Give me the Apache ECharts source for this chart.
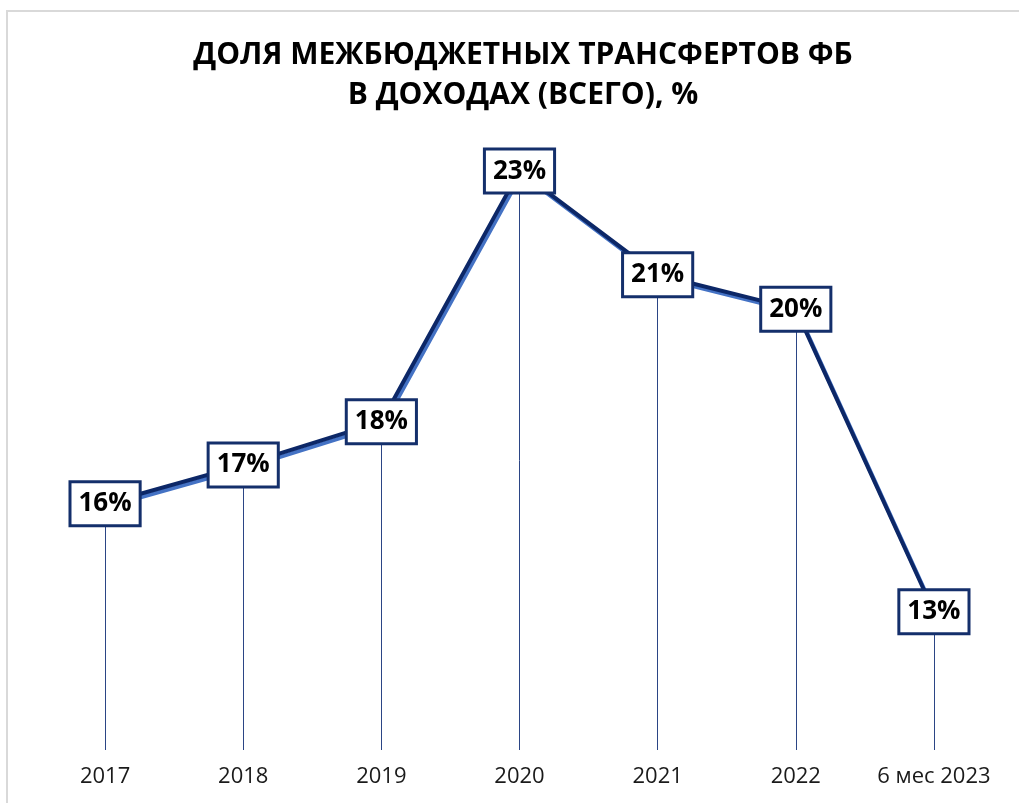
<!DOCTYPE html>
<html>
<head>
<meta charset="utf-8">
<script src="https://cdn.jsdelivr.net/npm/echarts@6/dist/echarts.min.js"></script>
<style>
    html, body { margin: 0; padding: 0; background: #fff; }
    #transfers { width: 1019px; height: 803px; }
</style>
</head>
<body>
<div id="transfers"></div>
<script>
    // данные графика
    var years = ['2017', '2018', '2019', '2020', '2021', '2022', '6 мес 2023'];
    var shares = [15.7, 16.6, 17.6, 23.4, 21.0, 20.2, 13.2];
    var yMin = 10;
    var yMax = 25;

    var chart = echarts.init(document.getElementById('transfers'));

    // вертикальные линии от точки до оси
    var dropLines = shares.map(function (v, i) {
        return [{ coord: [i, v] }, { coord: [i, yMin] }];
    });

    chart.setOption({
        animation: false,
        graphic: [{
            type: 'rect',
            shape: { x: 7, y: 11, width: 1100, height: 900 },
            style: { fill: 'none', stroke: '#d9d9d9', lineWidth: 2 },
            silent: true
        }],
        title: {
            text: 'ДОЛЯ МЕЖБЮДЖЕТНЫХ ТРАНСФЕРТОВ ФБ\nВ ДОХОДАХ (ВСЕГО), %',
            left: 518,
            top: 30,
            textAlign: 'center',
            textStyle: {
                fontFamily: 'Open Sans',
                fontWeight: 'bold',
                fontSize: 30,
                lineHeight: 40,
                color: '#000'
            }
        },
        grid: { left: 36, right: 16, top: 102, bottom: 53 },
        xAxis: {
            type: 'category',
            data: years,
            boundaryGap: true,
            axisLine: { show: false },
            axisTick: { show: false },
            axisLabel: {
                interval: 0,
                margin: 16,
                fontFamily: 'Open Sans',
                fontSize: 22,
                color: '#1a1a1a'
            }
        },
        yAxis: {
            type: 'value',
            min: yMin,
            max: yMax,
            show: false,
            splitLine: { show: false }
        },
        series: [{
            type: 'line',
            data: shares,
            z: 3,
            symbol: 'circle',
            symbolSize: 4,
            itemStyle: { color: '#0c2767' },
            lineStyle: {
                color: '#0c2767',
                width: 4,
                shadowColor: '#4472c4',
                shadowBlur: 0,
                shadowOffsetX: 2,
                shadowOffsetY: 3
            },
            label: {
                show: true,
                position: 'inside',
                formatter: function (p) { return Math.round(p.value) + '%'; },
                fontFamily: 'Open Sans',
                fontWeight: 'bold',
                fontSize: 26,
                lineHeight: 27,
                color: '#000',
                backgroundColor: '#fff',
                borderColor: '#142f6b',
                borderWidth: 3,
                padding: [8, 7, 6, 7]
            },
            markLine: {
                silent: true,
                z: 1,
                symbol: ['none', 'none'],
                label: { show: false },
                lineStyle: { color: '#2b4585', width: 1, type: 'solid' },
                data: dropLines
            }
        }]
    });
</script>
</body>
</html>
